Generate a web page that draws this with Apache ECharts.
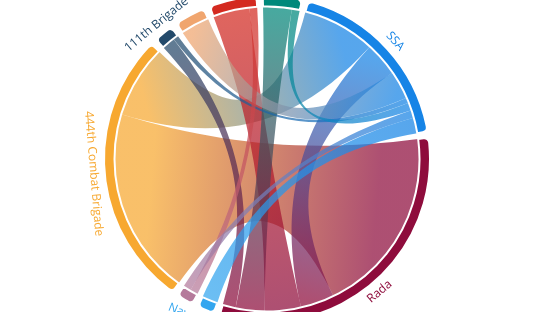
<!DOCTYPE html>
<html><head><meta charset="utf-8">
<script src="https://cdn.jsdelivr.net/npm/echarts@6/dist/echarts.min.js"></script>
<style>html,body{margin:0;padding:0;background:#fff}#c{width:555px;height:312px}</style>
</head><body><div id="c"></div>
<script>
// Nodes, clockwise from the top
const nodeNames = ['3rd Separate Assault Brigade', 'SSA', 'Rada', 'Naval Forces', 'Marines', '444th Combat Brigade', '111th Brigade', 'National Guard', 'Ministry of Defence'];
const nodeColors = ['#00897b', '#1684e6', '#8e0c3c', '#33a6ef', '#b57a9b', '#f7a830', '#234a6b', '#f0a56e', '#d42a20'];
const nodeLabelShown = [true, true, true, true, false, true, true, false, false];
// Links
const linkSources = ['444th Combat Brigade', '444th Combat Brigade', 'SSA', 'Ministry of Defence', '3rd Separate Assault Brigade', '111th Brigade', 'National Guard', '111th Brigade', '3rd Separate Assault Brigade', 'Ministry of Defence', 'Marines', 'Naval Forces'];
const linkTargets = ['Rada', 'SSA', 'Rada', 'Rada', 'Rada', 'Rada', 'SSA', 'SSA', 'SSA', 'Marines', 'SSA', 'SSA'];
const linkValues = [72, 28, 13, 14, 11, 5, 11, 2, 3, 3, 3, 6];

const START = 91.5, PAD = 2.2;
const chart = echarts.init(document.getElementById('c'), null, {renderer: 'canvas'});
const nodes = nodeNames.map((n, i) => ({name: n, itemStyle: {color: nodeColors[i]}}));
const links = linkSources.map((s, i) => ({source: s, target: linkTargets[i], value: linkValues[i]}));

// node totals, used by a transparent ring that carries the rotated labels
const totals = nodeNames.map(n => linkSources.reduce((a, s, i) => a + ((s === n || linkTargets[i] === n) ? linkValues[i] : 0), 0));
const sum = totals.reduce((a, b) => a + b, 0);
const avail = 360 - PAD * nodeNames.length;
const gapValue = PAD / avail * sum;
let acc = 90 - START;
const labelData = [];
nodeNames.forEach((n, i) => {
  const span = totals[i] / sum * avail;
  let mid = acc + span / 2;
  acc += span + PAD;
  mid = ((mid % 360) + 360) % 360;
  const rot = (mid > 90 && mid < 270) ? 180 - mid : -mid;
  labelData.push({
    name: n, value: totals[i],
    label: {show: nodeLabelShown[i], color: nodeColors[i], rotate: rot}
  });
  labelData.push({name: 'gap' + i, value: gapValue, label: {show: false}});
});

chart.setOption({
  animation: false,
  series: [{
    type: 'chord',
    center: [267, 159],
    radius: [152.5, 163],
    startAngle: START,
    clockwise: true,
    padAngle: PAD,
    data: nodes,
    links: links,
    itemStyle: {borderColor: '#fff', borderWidth: 2},
    lineStyle: {color: 'gradient', opacity: 0.72, borderColor: 'rgba(255,255,255,0.8)', borderWidth: 0.6},
    label: {show: false},
    z: 2
  }, {
    type: 'pie',
    silent: true,
    center: [267, 159],
    radius: [164, 178],
    startAngle: START,
    clockwise: true,
    itemStyle: {color: 'rgba(0,0,0,0)'},
    label: {show: true, position: 'inside', fontSize: 12, fontFamily: 'Open Sans'},
    labelLine: {show: false},
    data: labelData,
    z: 3
  }]
});
</script></body></html>
